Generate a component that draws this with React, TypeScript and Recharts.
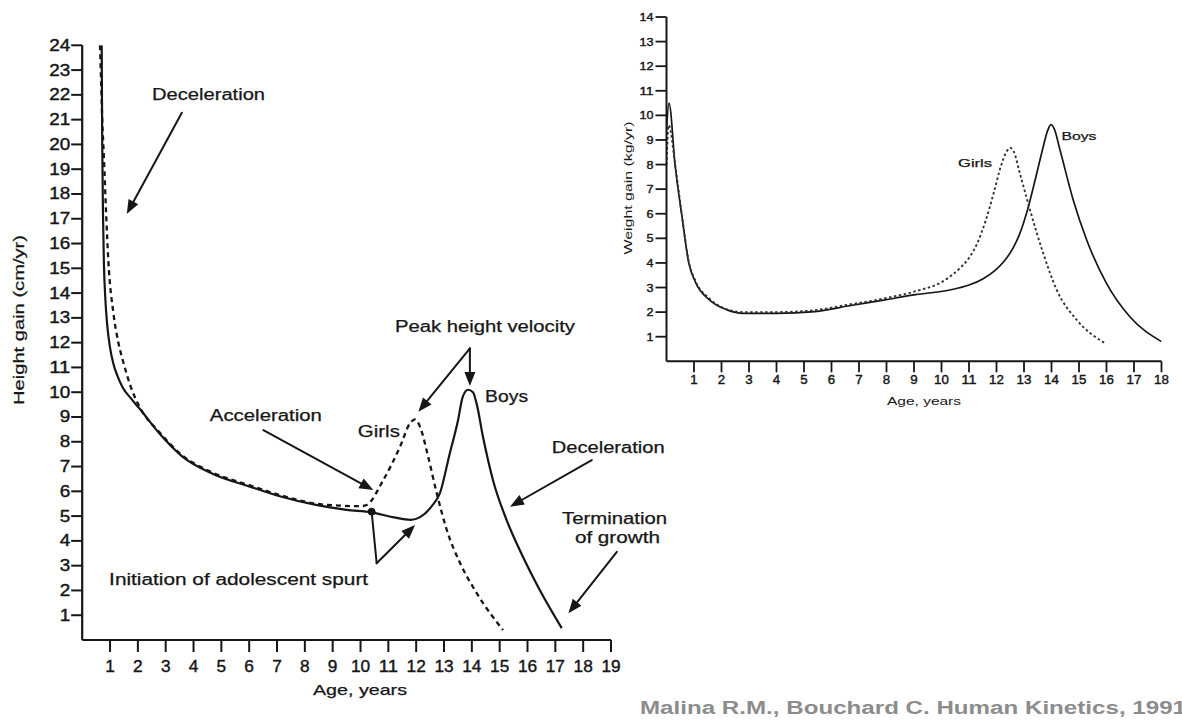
import React from 'react';
import { LineChart, Line, XAxis, YAxis, ReferenceLine, ReferenceDot } from 'recharts';

const FONT = '"Liberation Sans", Arial, Helvetica, sans-serif';
const INK = '#161616';

// ─── Left panel: height gain (cm/yr) by age ─────────────────────
const heightBoys = [
  { age: 0.7, gain: 24 }, { age: 0.72, gain: 20 }, { age: 0.75, gain: 17 },
  { age: 0.78, gain: 15.2 }, { age: 0.83, gain: 13.8 }, { age: 0.9, gain: 12.7 },
  { age: 1.0, gain: 11.8 }, { age: 1.12, gain: 11.15 }, { age: 1.27, gain: 10.65 },
  { age: 1.45, gain: 10.2 }, { age: 1.75, gain: 9.75 }, { age: 2.05, gain: 9.35 },
  { age: 2.8, gain: 8.3 }, { age: 3.6, gain: 7.4 }, { age: 4.7, gain: 6.7 },
  { age: 6.0, gain: 6.2 }, { age: 7.1, gain: 5.8 }, { age: 8.4, gain: 5.45 },
  { age: 9.5, gain: 5.25 }, { age: 10.4, gain: 5.15 }, { age: 11.2, gain: 4.95 },
  { age: 11.8, gain: 4.85 }, { age: 12.14, gain: 4.96 }, { age: 12.56, gain: 5.4 },
  { age: 12.86, gain: 5.95 }, { age: 13.2, gain: 7.5 }, { age: 13.5, gain: 8.85 },
  { age: 13.67, gain: 9.8 }, { age: 13.86, gain: 10.1 }, { age: 14.04, gain: 10.0 },
  { age: 14.17, gain: 9.55 }, { age: 14.4, gain: 8.2 }, { age: 14.76, gain: 6.45 },
  { age: 15.25, gain: 4.84 }, { age: 15.84, gain: 3.35 }, { age: 16.45, gain: 2.0 },
  { age: 17.23, gain: 0.48 },
];

const heightGirls = [
  { age: 0.64, gain: 24 }, { age: 0.68, gain: 22.5 }, { age: 0.72, gain: 21 },
  { age: 0.78, gain: 19.5 }, { age: 0.86, gain: 17.2 }, { age: 0.94, gain: 15.3 },
  { age: 1.12, gain: 13.2 }, { age: 1.3, gain: 12.0 }, { age: 1.48, gain: 11.2 },
  { age: 1.75, gain: 10.2 }, { age: 2.02, gain: 9.5 }, { age: 2.8, gain: 8.35 },
  { age: 3.6, gain: 7.45 }, { age: 4.7, gain: 6.75 }, { age: 6.0, gain: 6.25 },
  { age: 7.1, gain: 5.85 }, { age: 8.4, gain: 5.5 }, { age: 9.3, gain: 5.42 },
  { age: 10.0, gain: 5.4 }, { age: 10.22, gain: 5.45 }, { age: 10.82, gain: 6.46 },
  { age: 11.42, gain: 7.8 }, { age: 11.78, gain: 8.75 }, { age: 11.96, gain: 8.9 },
  { age: 12.14, gain: 8.6 }, { age: 12.43, gain: 7.4 }, { age: 12.74, gain: 5.92 },
  { age: 13.1, gain: 4.44 }, { age: 13.58, gain: 3.1 }, { age: 14.17, gain: 1.9 },
  { age: 15.12, gain: 0.4 },
];

const heightTicks = [1, 2, 3, 4, 5, 6, 7, 8, 9, 10, 11, 12, 13, 14, 15, 16, 17, 18, 19, 20, 21, 22, 23, 24];
const heightAgeTicks = [1, 2, 3, 4, 5, 6, 7, 8, 9, 10, 11, 12, 13, 14, 15, 16, 17, 18, 19];

// ─── Right panel: weight gain (kg/yr) by age ────────────────────
const weightBoys = [
  { age: 0, gain: 9.4 }, { age: 0.09, gain: 10.5 }, { age: 0.32, gain: 7.9 },
  { age: 0.56, gain: 5.9 }, { age: 0.81, gain: 4.0 }, { age: 1.06, gain: 3.2 },
  { age: 1.56, gain: 2.5 }, { age: 2.18, gain: 2.1 }, { age: 2.8, gain: 1.95 },
  { age: 4.0, gain: 1.95 }, { age: 5.4, gain: 2.02 }, { age: 6.6, gain: 2.25 },
  { age: 7.9, gain: 2.49 }, { age: 9.06, gain: 2.71 }, { age: 10.3, gain: 2.9 },
  { age: 11.0, gain: 3.1 }, { age: 11.5, gain: 3.35 }, { age: 11.95, gain: 3.7 },
  { age: 12.3, gain: 4.1 }, { age: 12.6, gain: 4.6 }, { age: 12.85, gain: 5.2 },
  { age: 13.1, gain: 6.05 }, { age: 13.4, gain: 7.35 }, { age: 13.65, gain: 8.5 },
  { age: 13.85, gain: 9.35 }, { age: 13.98, gain: 9.62 }, { age: 14.1, gain: 9.45 },
  { age: 14.31, gain: 8.59 }, { age: 14.79, gain: 6.56 }, { age: 15.28, gain: 4.93 },
  { age: 16.0, gain: 3.17 }, { age: 16.85, gain: 1.81 }, { age: 18.0, gain: 0.8 },
];

const weightGirls = [
  { age: 0, gain: 8.0 }, { age: 0.08, gain: 9.6 }, { age: 0.32, gain: 7.95 },
  { age: 0.56, gain: 5.95 }, { age: 0.81, gain: 4.05 }, { age: 1.06, gain: 3.25 },
  { age: 1.56, gain: 2.55 }, { age: 2.18, gain: 2.12 }, { age: 2.8, gain: 2.0 },
  { age: 4.0, gain: 2.0 }, { age: 5.4, gain: 2.08 }, { age: 6.6, gain: 2.3 },
  { age: 7.9, gain: 2.55 }, { age: 9.06, gain: 2.85 }, { age: 10.05, gain: 3.25 },
  { age: 10.67, gain: 3.79 }, { age: 11.0, gain: 4.2 }, { age: 11.3, gain: 4.8 },
  { age: 11.6, gain: 5.7 }, { age: 11.9, gain: 6.85 }, { age: 12.15, gain: 7.9 },
  { age: 12.38, gain: 8.55 }, { age: 12.5, gain: 8.68 }, { age: 12.62, gain: 8.55 },
  { age: 12.85, gain: 7.64 }, { age: 13.22, gain: 6.15 }, { age: 13.7, gain: 4.39 },
  { age: 14.19, gain: 2.9 }, { age: 14.92, gain: 1.68 }, { age: 15.95, gain: 0.73 },
];

const weightTicks = [1, 2, 3, 4, 5, 6, 7, 8, 9, 10, 11, 12, 13, 14];
const weightAgeTicks = [1, 2, 3, 4, 5, 6, 7, 8, 9, 10, 11, 12, 13, 14, 15, 16, 17, 18];

// ─── Annotations (in age / gain units) ──────────────────────────
const leftNotes = [
  { text: 'Deceleration', age: 4.54, gain: 22.03 },
  { text: 'Acceleration', age: 6.6, gain: 9.04 },
  { text: 'Girls', age: 10.66, gain: 8.43 },
  { text: 'Peak height velocity', age: 14.47, gain: 12.65 },
  { text: 'Boys', age: 15.25, gain: 9.82 },
  { text: 'Deceleration', age: 18.9, gain: 7.75 },
  { text: 'Termination', age: 19.13, gain: 4.92 },
  { text: 'of growth', age: 19.23, gain: 4.12 },
  { text: 'Initiation of adolescent spurt', age: 5.62, gain: 2.46 },
];

const leftArrows = [
  { from: [3.58, 21.28], to: [1.6, 17.19], head: true },
  { from: [6.51, 8.47], to: [10.46, 6.05], head: true },
  { from: [13.93, 11.77], to: [13.93, 10.25], head: true },
  { from: [13.93, 11.77], to: [12.08, 9.21], head: true },
  { from: [18.31, 7.26], to: [15.37, 5.38], head: true },
  { from: [19.21, 3.56], to: [17.47, 1.08], head: true },
  { from: [10.4, 5.18], to: [10.58, 3.1], head: false },
  { from: [10.58, 3.1], to: [11.96, 4.64], head: true },
];

const spurtOnset = { age: 10.4, gain: 5.18 };

const rightNotes = [
  { text: 'Girls', age: 11.22, gain: 8.05 },
  { text: 'Boys', age: 15.0, gain: 9.16 },
];

// the scan is stretched sideways, so text widths are forced
const noteWidths: Record<string, number> = {
  Deceleration: 113,
  Acceleration: 112,
  Girls: 42,
  'Peak height velocity': 180,
  Boys: 43,
  Termination: 105,
  'of growth': 85,
  'Initiation of adolescent spurt': 259,
};

// ─── Small drawing helpers ──────────────────────────────────────
const Arrow = ({ x1, y1, x2, y2, head }: any) => {
  const ang = Math.atan2(y2 - y1, x2 - x1);
  const L = 14;
  const W = 5.5;
  const bx = x2 - L * Math.cos(ang);
  const by = y2 - L * Math.sin(ang);
  const px = -Math.sin(ang) * W;
  const py = Math.cos(ang) * W;
  return (
    <g>
      <line x1={x1} y1={y1} x2={head ? bx + Math.cos(ang) * 2 : x2} y2={head ? by + Math.sin(ang) * 2 : y2} stroke={INK} strokeWidth={2} strokeLinecap="round" />
      {head && <polygon points={`${x2},${y2} ${bx + px},${by + py} ${bx - px},${by - py}`} fill={INK} />}
    </g>
  );
};

const NoteText = ({ cx, cy, text, size, width }: any) => (
  <text
    x={cx}
    y={cy}
    textAnchor="middle"
    dominantBaseline="central"
    fontFamily={FONT}
    fontSize={size}
    fill={INK}
    stroke={INK}
    strokeWidth={0.25}
    textLength={width}
    lengthAdjust="spacingAndGlyphs"
  >
    {text}
  </text>
);

const makeYTick = (size: number, digit: number) => (p: any) => {
  const s = String(p.payload.value);
  return (
    <text x={p.x} y={p.y} textAnchor="end" dominantBaseline="central" fontFamily={FONT} fontSize={size} fill={INK}
      stroke={INK} strokeWidth={0.4} textLength={s.length * digit} lengthAdjust="spacingAndGlyphs">
      {s}
    </text>
  );
};

const makeXTick = (size: number, digit: number, dy: number) => (p: any) => {
  const s = String(p.payload.value);
  return (
    <text x={p.x} y={p.y + dy} textAnchor="middle" dominantBaseline="central" fontFamily={FONT} fontSize={size} fill={INK}
      stroke={INK} strokeWidth={0.4} textLength={s.length * digit} lengthAdjust="spacingAndGlyphs">
      {s}
    </text>
  );
};

const HeightPanel = () => (
  <LineChart width={700} height={710} margin={{ top: 45.3, right: 89, bottom: 30, left: 22.2 }}>
    <XAxis
      type="number"
      dataKey="age"
      domain={[0, 19]}
      ticks={heightAgeTicks}
      allowDataOverflow
      height={40}
      tickSize={12}
      tickMargin={2}
      axisLine={{ stroke: INK, strokeWidth: 2.2 }}
      tickLine={{ stroke: INK, strokeWidth: 2 }}
      tick={makeXTick(16, 9.6, 12)}
      interval={0}
    />
    <YAxis
      type="number"
      dataKey="gain"
      domain={[0, 24]}
      ticks={heightTicks}
      allowDataOverflow
      width={60}
      tickSize={11}
      tickMargin={1}
      axisLine={{ stroke: INK, strokeWidth: 2.2 }}
      tickLine={{ stroke: INK, strokeWidth: 2 }}
      tick={makeYTick(16, 10.5)}
      interval={0}
    />
    <Line data={heightBoys} dataKey="gain" type="monotone" stroke={INK} strokeWidth={2.2} dot={false} activeDot={false} isAnimationActive={false} />
    <Line data={heightGirls} dataKey="gain" type="monotone" stroke={INK} strokeWidth={2.3} strokeDasharray="5 4" dot={false} activeDot={false} isAnimationActive={false} />
    {leftArrows.map((a, i) => (
      <ReferenceLine
        key={`arr-${i}`}
        segment={[{ x: a.from[0], y: a.from[1] }, { x: a.to[0], y: a.to[1] }]}
        ifOverflow="visible"
        shape={(p: any) => <Arrow {...p} head={a.head} />}
      />
    ))}
    <ReferenceDot x={spurtOnset.age} y={spurtOnset.gain} r={3.5} fill={INK} stroke={INK} ifOverflow="visible" />
    {leftNotes.map((n, i) => (
      <ReferenceDot
        key={`note-${i}`}
        x={n.age}
        y={n.gain}
        r={0}
        ifOverflow="visible"
        shape={(p: any) => <NoteText cx={p.cx} cy={p.cy} text={n.text} size={16} width={noteWidths[n.text]} />}
      />
    ))}
  </LineChart>
);

const WeightPanel = () => (
  <LineChart width={582} height={430} margin={{ top: 17, right: 20.5, bottom: 28.7, left: 16.5 }}>
    <XAxis
      type="number"
      dataKey="age"
      domain={[0, 18]}
      ticks={weightAgeTicks}
      allowDataOverflow
      height={40}
      tickSize={11}
      tickMargin={2}
      axisLine={{ stroke: INK, strokeWidth: 2 }}
      tickLine={{ stroke: INK, strokeWidth: 1.8 }}
      tick={makeXTick(12, 7.4, 6)}
      interval={0}
    />
    <YAxis
      type="number"
      dataKey="gain"
      domain={[0, 14]}
      ticks={weightTicks}
      allowDataOverflow
      width={50}
      tickSize={11}
      tickMargin={2}
      axisLine={{ stroke: INK, strokeWidth: 2 }}
      tickLine={{ stroke: INK, strokeWidth: 1.8 }}
      tick={makeYTick(11, 7)}
      interval={0}
    />
    <Line data={weightBoys} dataKey="gain" type="monotone" stroke={INK} strokeWidth={1.7} dot={false} activeDot={false} isAnimationActive={false} />
    <Line data={weightGirls} dataKey="gain" type="monotone" stroke="#333" strokeWidth={1.9} strokeDasharray="2.5 2.5" dot={false} activeDot={false} isAnimationActive={false} />
    {rightNotes.map((n, i) => (
      <ReferenceDot
        key={`rnote-${i}`}
        x={n.age}
        y={n.gain}
        r={0}
        ifOverflow="visible"
        shape={(p: any) => <NoteText cx={p.cx} cy={p.cy} text={n.text} size={11} width={n.text === 'Girls' ? 34 : 35} />}
      />
    ))}
  </LineChart>
);

export default function App() {
  return (
    <div style={{ position: 'absolute', left: 0, top: 0, width: 1182, height: 724, background: '#fff', overflow: 'hidden' }}>
      <div style={{ position: 'absolute', left: 0, top: 0 }}>
        <HeightPanel />
      </div>
      <div style={{ position: 'absolute', left: 600, top: 0 }}>
        <WeightPanel />
      </div>
      <svg width={1182} height={724} style={{ position: 'absolute', left: 0, top: 0, pointerEvents: 'none' }}>
        <text x={18} y={320} transform="rotate(-90 18 320)" textAnchor="middle" dominantBaseline="central" fontFamily={FONT} fontSize={15} fill={INK} stroke={INK} strokeWidth={0.25} textLength={170} lengthAdjust="spacingAndGlyphs">
          Height gain (cm/yr)
        </text>
        <text x={360} y={689} textAnchor="middle" dominantBaseline="central" fontFamily={FONT} fontSize={15} fill={INK} stroke={INK} strokeWidth={0.25} textLength={94} lengthAdjust="spacingAndGlyphs">
          Age, years
        </text>
        <text x={628} y={188} transform="rotate(-90 628 188)" textAnchor="middle" dominantBaseline="central" fontFamily={FONT} fontSize={11} fill={INK} textLength={133} lengthAdjust="spacingAndGlyphs">
          Weight gain (kg/yr)
        </text>
        <text x={924} y={401} textAnchor="middle" dominantBaseline="central" fontFamily={FONT} fontSize={11} fill={INK} textLength={74} lengthAdjust="spacingAndGlyphs">
          Age, years
        </text>
        <text x={640} y={708} dominantBaseline="central" fontFamily={FONT} fontSize={18} fontWeight="bold" fill="#8c8c8c" textLength={546} lengthAdjust="spacingAndGlyphs">
          Malina R.M., Bouchard C. Human Kinetics, 1991
        </text>
      </svg>
    </div>
  );
}
